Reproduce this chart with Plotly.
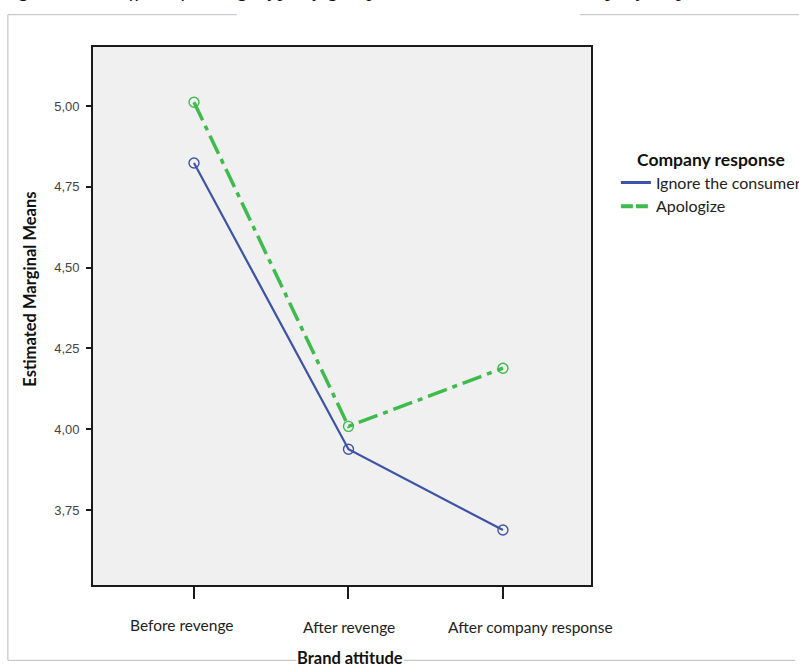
import plotly.graph_objects as go

# Estimated marginal means of brand attitude, by company response
stages = ["Before revenge", "After revenge", "After company response"]
ignore_means = [4.824, 3.938, 3.688]
apologize_means = [5.012, 4.009, 4.189]
y_ticks = [3.75, 4.00, 4.25, 4.50, 4.75, 5.00]

BLUE = "#3d52a9"
GREEN = "#3dbb4c"
FRAME = "#c9c9c9"
SANS = "Lato"

fig = go.Figure()

fig.add_trace(go.Scatter(
    x=stages, y=ignore_means, mode="lines+markers", showlegend=False,
    line=dict(color=BLUE, width=2.2),
    marker=dict(symbol="circle-open", size=10, color=BLUE, line=dict(width=1.4)),
))
fig.add_trace(go.Scatter(
    x=stages, y=apologize_means, mode="lines+markers", showlegend=False,
    line=dict(color=GREEN, width=3.5, dash="20px,6px,5px,6px"),
    marker=dict(symbol="circle-open", size=10, color=GREEN, line=dict(width=1.4)),
))

# legend entries drawn as plain line samples
fig.add_trace(go.Scatter(x=[None], y=[None], mode="lines", name="Ignore the consumer",
                         line=dict(color=BLUE, width=3)))
fig.add_trace(go.Scatter(x=[None], y=[None], mode="lines", name="Apologize",
                         line=dict(color=GREEN, width=4, dash="12px,3px")))

fig.update_xaxes(
    type="category", range=[-0.654, 2.57],
    showline=True, mirror=True, linecolor="#1a1a1a", linewidth=1.6,
    ticks="outside", ticklen=12, tickwidth=1.5, tickcolor="#1a1a1a",
    showticklabels=False, showgrid=False, zeroline=False,
)
fig.update_yaxes(
    range=[3.518, 5.183], tickvals=y_ticks, tickformat=".2f",
    showline=True, mirror=True, linecolor="#1a1a1a", linewidth=1.6,
    ticks="outside", ticklen=5, tickwidth=1.5, tickcolor="#1a1a1a",
    ticklabelstandoff=4,
    tickfont=dict(family="Arial, 'Liberation Sans', sans-serif", size=13, color="#444"),
    showgrid=False, zeroline=False,
)

# category labels beneath the ticks
label_shift = [-12, 1, 28]
label_y = [-0.074, -0.078, -0.078]
for stage, dx, yy in zip(stages, label_shift, label_y):
    fig.add_annotation(x=stage, xref="x", y=yy, yref="paper", text=stage,
                       showarrow=False, xshift=dx, xanchor="center", yanchor="middle",
                       font=dict(family=SANS, size=15.5, color="#222"))

# axis titles
fig.add_annotation(x=-0.1265, xref="paper", y=0.549, yref="paper",
                   xanchor="center", yanchor="middle",
                   text="<b>Estimated Marginal Means</b>", textangle=-90,
                   showarrow=False, font=dict(family=SANS, size=16.5, color="#111"))
fig.add_annotation(x=0.517, xref="paper", y=-0.136, yref="paper",
                   text="<b>Brand attitude</b>", showarrow=False,
                   xanchor="center", yanchor="middle",
                   bgcolor="white", borderpad=0,
                   font=dict(family=SANS, size=16.5, color="#111"))

# caption line of the surrounding page, cut by the top edge
fig.add_annotation(x=-0.19, xref="paper", y=1.081, yref="paper", xanchor="left",
                   yanchor="bottom",
                   text="<i>Figure 2. The effect of revenge type by group on brand attitude and company response</i>",
                   showarrow=False,
                   font=dict(family="'Liberation Serif', serif", size=21, color="#111"))

# page frame
fig.add_shape(type="line", xref="paper", yref="paper", x0=-0.171, x1=-0.171,
              y0=1.06, y1=-0.140, line=dict(color=FRAME, width=1.3))
fig.add_shape(type="line", xref="paper", yref="paper", x0=-0.171, x1=0.289,
              y0=1.06, y1=1.06, line=dict(color=FRAME, width=1.3))
fig.add_shape(type="line", xref="paper", yref="paper", x0=0.978, x1=1.43,
              y0=1.06, y1=1.06, line=dict(color=FRAME, width=1.3))
fig.add_shape(type="line", xref="paper", yref="paper", x0=-0.171, x1=1.41,
              y0=-0.140, y1=-0.140, line=dict(color=FRAME, width=1.3), layer="below")

fig.update_layout(
    width=799, height=667,
    margin=dict(l=93, r=208, t=47, b=82, autoexpand=False),
    paper_bgcolor="white", plot_bgcolor="#f0f0f0",
    separators=",.",
    legend=dict(
        x=1.05, y=0.822, xanchor="left", yanchor="top",
        title=dict(text="<b>Company response</b>", side="top center",
                   font=dict(family=SANS, size=17.5, color="#111")),
        font=dict(family=SANS, size=16, color="#222"),
        bgcolor="rgba(0,0,0,0)", tracegroupgap=0,
    ),
)

fig.write_html("out.html")
